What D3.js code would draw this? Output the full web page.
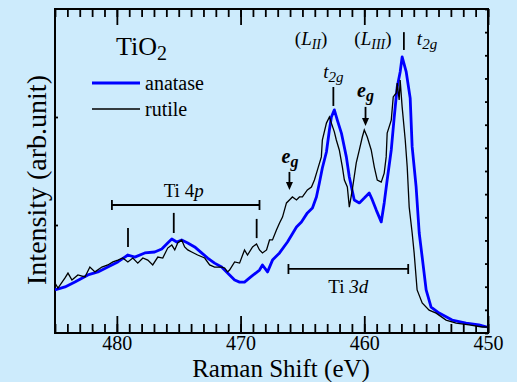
<!DOCTYPE html>
<html>
<head>
<meta charset="utf-8">
<style>
  body { margin: 0; background: #cdebfc; }
  svg { display: block; }
  svg text { font-family: "Liberation Serif", "Times New Roman", serif; }
  .tick line { stroke: black; stroke-width: 1.8; }
  .tick text { font-size: 20px; fill: black; }
  .domain { display: none; }
  .mark { stroke: black; stroke-width: 1.8; fill: none; }
</style>
<title>TiO2 Raman</title>
</head>
<body>
<script src="https://cdn.jsdelivr.net/npm/d3@7"></script>
<script>

var serif = "Liberation Serif, Times New Roman, serif";

// anatase (blue)
var anataseShift = [485.0, 484.19, 483.39, 482.34, 481.53, 480.73, 479.92, 479.11, 478.55, 477.74,
  476.94, 476.37, 475.89, 475.56, 475.16, 474.76, 474.27, 473.71, 473.15, 472.66,
  472.10, 471.53, 471.05, 470.48, 470.08, 469.68, 469.27, 468.47, 468.23, 467.82,
  467.42, 466.85, 466.21, 465.48, 465.08, 464.60, 464.19, 463.87, 463.63, 463.39,
  463.06, 462.82, 462.66, 462.42, 462.18, 461.85, 461.45, 461.21, 460.81, 460.40,
  460.00, 459.60, 459.35, 459.03, 458.63, 458.39, 458.15, 457.82, 457.58, 457.34,
  457.10, 456.94, 456.61, 456.29, 456.13, 455.81, 455.56, 455.32, 455.00, 454.60,
  453.95, 452.90, 451.77, 450.73, 450.08];
var anataseIntensity = [1.86, 1.99, 2.20, 2.51, 2.64, 2.85, 3.07, 3.37, 3.28, 3.46,
  3.50, 3.63, 3.89, 4.06, 3.93, 4.02, 3.89, 3.72, 3.46, 3.24,
  3.02, 2.85, 2.59, 2.29, 2.20, 2.20, 2.38, 2.72, 2.94, 2.64,
  3.15, 3.46, 3.93, 4.58, 4.80, 5.19, 5.40, 5.88, 6.48, 7.13,
  7.82, 8.77, 9.33, 9.64, 9.20, 8.64, 7.61, 6.74, 5.75, 5.62,
  5.83, 6.05, 5.75, 5.31, 4.80, 5.62, 6.61, 7.91, 9.33, 10.63,
  11.28, 11.93, 11.28, 10.15, 8.04, 6.31, 4.32, 3.28, 1.86, 1.12,
  0.86, 0.56, 0.43, 0.35, 0.26];

// rutile (black)
var rutileShift = [485.0, 484.76, 484.19, 483.95, 483.63, 483.15, 482.58, 482.18, 481.77, 481.21,
  480.73, 480.32, 479.92, 479.52, 479.11, 478.71, 478.31, 477.90, 477.50, 477.10,
  476.69, 476.29, 475.89, 475.56, 475.32, 475.08, 474.76, 474.52, 474.27, 473.95,
  473.47, 472.90, 472.50, 472.10, 471.53, 471.29, 471.05, 470.89, 470.48, 470.08,
  469.68, 469.44, 469.03, 468.71, 468.47, 468.23, 467.90, 467.66, 467.42, 467.10,
  466.85, 466.61, 466.29, 466.05, 465.81, 465.48, 465.24, 465.00, 464.60, 464.27,
  464.03, 463.79, 463.47, 463.39, 463.06, 462.82, 462.66, 462.42, 462.26, 462.02,
  461.77, 461.61, 461.37, 461.21, 460.97, 460.65, 460.40, 460.16, 460.00, 459.76,
  459.44, 459.19, 458.95, 458.63, 458.39, 458.23, 458.15, 457.82, 457.66, 457.42,
  457.34, 457.18, 457.10, 456.94, 456.69, 456.53, 456.37, 456.13, 455.97, 455.73,
  455.32, 454.76, 454.19, 453.39, 452.58, 451.53, 450.48, 450.08];
var rutileIntensity = [2.16, 1.94, 2.38, 2.59, 2.29, 2.51, 2.42, 2.85, 2.64, 2.85,
  2.94, 3.07, 3.15, 3.24, 3.07, 3.24, 3.02, 3.24, 3.15, 2.94,
  3.28, 3.24, 3.67, 3.80, 3.59, 3.89, 4.02, 3.72, 3.59, 3.50,
  3.37, 3.24, 2.94, 2.85, 2.85, 2.81, 2.64, 2.72, 3.07, 3.02,
  3.59, 3.37, 3.72, 3.85, 3.59, 3.46, 3.59, 4.02, 4.02, 4.45,
  4.75, 5.01, 5.62, 5.75, 5.88, 5.75, 5.88, 5.88, 6.18, 6.31,
  6.61, 7.04, 7.61, 8.34, 9.07, 9.33, 9.07, 8.69, 8.34, 7.91,
  7.17, 6.61, 6.31, 5.44, 6.18, 7.35, 7.91, 8.47, 8.77, 8.47,
  7.91, 7.17, 6.61, 6.52, 6.91, 7.61, 8.64, 9.20, 10.20, 10.37,
  10.80, 10.07, 10.93, 9.77, 8.34, 7.17, 5.44, 4.32, 3.46, 1.86,
  1.30, 0.99, 0.86, 0.56, 0.43, 0.35, 0.26, 0.26];

var majorTicks = [480, 470, 460, 450];
var minorTicks = d3.range(450, 486, 1);
var rightTicks = d3.range(0, 15, 1);
var leftTicks = [14 / 3, 28 / 3];

// vertical marker lines: [shift, from, to]
var markers = [[479.1, 3.72, 4.54], [475.4, 4.32, 5.19], [468.7, 4.10, 4.93],
  [462.5, 9.81, 10.63], [456.8, 12.23, 13.0]];
// arrows: [shift, from, tip]
var arrows = [[466.05, 6.96, 6.18], [459.9, 9.77, 8.94]];
// brackets: [from, to, level]
var brackets = [[480.4, 468.47, 5.53], [466.13, 456.45, 2.77]];

var width = 517, height = 382;
var margin = {top: 9, right: 29, bottom: 49, left: 55};
var w = width - margin.left - margin.right,
    h = height - margin.top - margin.bottom;

var x = d3.scaleLinear().domain([485, 450]).range([0, w]);
var y = d3.scaleLinear().domain([0, 14]).range([h, 0]);

var svg = d3.select("body").append("svg")
    .attr("width", width)
    .attr("height", height)
  .append("g")
    .attr("transform", `translate(${margin.left},${margin.top})`);

// axes, ticks pointing inward
svg.append("g").attr("transform", `translate(0,${h})`)
    .call(d3.axisBottom(x).tickValues(minorTicks).tickSize(-9).tickFormat(""));
svg.append("g").attr("transform", `translate(0,${h})`)
    .call(d3.axisBottom(x).tickValues(majorTicks).tickSize(-17).tickPadding(3).tickFormat(d3.format("d")))
    .attr("font-family", serif).attr("font-size", 20);
svg.append("g")
    .call(d3.axisTop(x).tickValues(minorTicks).tickSize(-8).tickFormat(""));
svg.append("g")
    .call(d3.axisTop(x).tickValues(majorTicks).tickSize(-16).tickFormat(""));
svg.append("g").attr("transform", `translate(${w},0)`)
    .call(d3.axisRight(y).tickValues(rightTicks).tickSize(-3).tickFormat(""));
svg.append("g")
    .call(d3.axisLeft(y).tickValues(leftTicks).tickSize(-3).tickFormat(""));

svg.append("rect")
    .attr("width", w).attr("height", h)
    .attr("fill", "none").attr("stroke", "black").attr("stroke-width", 2);

var line = d3.line().x(d => x(d[0])).y(d => y(d[1]));

svg.append("path")
    .datum(d3.zip(anataseShift, anataseIntensity))
    .attr("d", line)
    .attr("fill", "none").attr("stroke", "#0000ff").attr("stroke-width", 2.8)
    .attr("stroke-linejoin", "round");
svg.append("path")
    .datum(d3.zip(rutileShift, rutileIntensity))
    .attr("d", line)
    .attr("fill", "none").attr("stroke", "black").attr("stroke-width", 1.3);

// markers
svg.selectAll(".vm").data(markers).enter().append("line")
    .attr("class", "mark")
    .attr("x1", d => x(d[0])).attr("x2", d => x(d[0]))
    .attr("y1", d => y(d[1])).attr("y2", d => y(d[2]));

// arrows
arrows.forEach(function(a) {
  var ax = x(a[0]), top = y(a[1]), tip = y(a[2]);
  svg.append("line").attr("class", "mark")
      .attr("x1", ax).attr("x2", ax).attr("y1", top).attr("y2", tip - 6);
  svg.append("path")
      .attr("d", `M${ax - 3.5},${tip - 8} L${ax + 3.5},${tip - 8} L${ax},${tip} Z`)
      .attr("fill", "black");
});

// brackets
brackets.forEach(function(b) {
  var x1 = x(b[0]), x2 = x(b[1]), by = y(b[2]);
  svg.append("path").attr("class", "mark").attr("stroke-width", 1.5)
      .attr("d", `M${x1},${by - 5}V${by + 5}M${x1},${by}H${x2}M${x2},${by - 5}V${by + 5}`);
});

// text helper
function label(px, py, size, anchor) {
  return svg.append("text")
      .attr("x", px).attr("y", py)
      .attr("font-family", serif)
      .attr("font-size", size)
      .attr("text-anchor", anchor || "start")
      .attr("fill", "black");
}

// Ti 4p / Ti 3d
var t4 = label(x(474.6), y(5.88), 19, "middle");
t4.append("tspan").text("Ti 4");
t4.append("tspan").attr("font-style", "italic").text("p");
var t3 = label(x(461.3), y(1.73), 19, "middle");
t3.append("tspan").text("Ti ");
t3.append("tspan").attr("font-style", "italic").text("3d");

// e_g labels
[[466.0, 7.35], [459.9, 10.20]].forEach(function(p) {
  var t = label(x(p[0]), y(p[1]), 20, "middle")
      .attr("font-weight", "bold").attr("font-style", "italic");
  t.append("tspan").text("e");
  t.append("tspan").attr("font-size", 16).attr("dy", 4).text("g");
});

// t2g labels
[[462.5, 11.02, "middle"], [455.75, 12.44, "start"]].forEach(function(p) {
  var t = label(x(p[0]), y(p[1]), 19, p[2]).attr("font-style", "italic");
  t.append("tspan").text("t");
  t.append("tspan").attr("font-size", 15).attr("dy", 4).text("2g");
});

// (L_II), (L_III)
[[464.3, "II"], [459.3, "III"]].forEach(function(p) {
  var t = label(x(p[0]), y(12.44), 19, "middle");
  t.append("tspan").text("(");
  t.append("tspan").attr("font-style", "italic").text("L");
  t.append("tspan").attr("font-style", "italic").attr("font-size", 14).attr("dy", 4).text(p[1]);
  t.append("tspan").attr("dy", -4).text(")");
});

// title + legend (plot-relative pixels)
var ti = label(61, 46, 26);
ti.append("tspan").text("TiO");
ti.append("tspan").attr("font-size", 20).attr("dy", 5).text("2");

svg.append("line").attr("x1", 37).attr("x2", 85).attr("y1", 74).attr("y2", 74)
    .attr("stroke", "#0000ff").attr("stroke-width", 2.8);
svg.append("line").attr("x1", 37).attr("x2", 85).attr("y1", 100).attr("y2", 100)
    .attr("stroke", "black").attr("stroke-width", 1.3);
label(90, 81, 20).text("anatase");
label(90, 107, 20).text("rutile");

// axis titles
label(226, h + 43.5, 25, "middle").text("Raman Shift (eV)");
label(-171, -9, 28, "middle")
    .attr("transform", "rotate(-90)")
    .text("Intensity (arb.unit)");

</script>
</body>
</html>
